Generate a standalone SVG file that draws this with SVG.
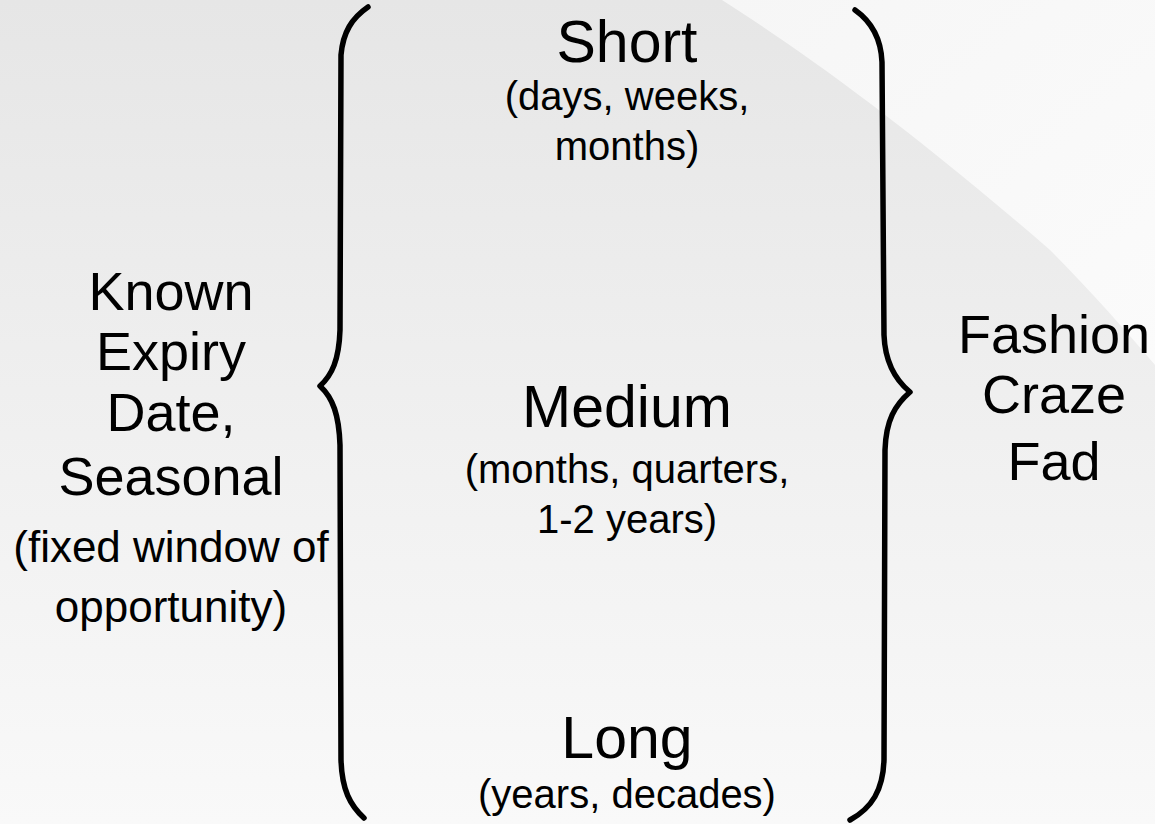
<svg xmlns="http://www.w3.org/2000/svg" width="1155" height="824" viewBox="0 0 1155 824">
  <defs>
    <linearGradient id="bg" x1="0" y1="0" x2="0" y2="1">
      <stop offset="0" stop-color="#e6e6e6"/>
      <stop offset="1" stop-color="#f9f9f9"/>
    </linearGradient>
    <linearGradient id="sheen" x1="0" y1="0" x2="1" y2="1">
      <stop offset="0" stop-color="#f6f6f6"/>
      <stop offset="1" stop-color="#fbfbfb"/>
    </linearGradient>
    <!-- slightly ragged ink edge for the hand-drawn braces -->
    <filter id="ink" x="-10%" y="-2%" width="120%" height="104%">
      <feTurbulence type="fractalNoise" baseFrequency="0.9" numOctaves="1" seed="3" result="noise"/>
      <feDisplacementMap in="SourceGraphic" in2="noise" scale="1.6" xChannelSelector="R" yChannelSelector="G"/>
    </filter>
    <style>
      .big { font-family: "Liberation Sans", Arial, sans-serif; font-size: 59px; fill: #000; text-anchor: middle; }
      .side { font-family: "Liberation Sans", Arial, sans-serif; font-size: 54px; fill: #000; text-anchor: middle; }
      .small { font-family: "Liberation Sans", Arial, sans-serif; font-size: 40px; fill: #000; text-anchor: middle; }
      .note { font-family: "Liberation Sans", Arial, sans-serif; font-size: 44px; fill: #000; text-anchor: middle; }
      .brace { fill: none; stroke: #000; stroke-width: 5.5; stroke-linecap: round; stroke-linejoin: round; }
    </style>
  </defs>

  <!-- backdrop -->
  <rect x="0" y="0" width="1155" height="824" fill="url(#bg)"/>
  <path d="M 722,0 C 800,50 900,120 1050,250 C 1090,290 1125,330 1155,365 L 1155,0 Z" fill="url(#sheen)"/>

  <!-- braces -->
  <g id="connectors" filter="url(#ink)">
    <path class="brace" d="M 368,7 C 352,18 343,32 341,55 L 340,330 C 339,360 332,375 320,386 C 333,398 339,415 340,445 L 341,760 C 342,790 350,805 364,818"/>
    <path class="brace" d="M 855,10 C 872,22 881,38 882,62 L 884,335 C 885,360 893,378 910,392 C 895,405 886,420 885,450 L 884,760 C 883,790 872,808 850,820"/>
  </g>

  <g id="short">
    <text class="big" x="627" y="62">Short</text>
    <text class="small" x="627" y="110">(days, weeks,</text>
    <text class="small" x="627" y="160">months)</text>
  </g>

  <g id="medium">
    <text class="big" x="627" y="427">Medium</text>
    <text class="small" x="627" y="483">(months, quarters,</text>
    <text class="small" x="627" y="533">1-2 years)</text>
  </g>

  <g id="long">
    <text class="big" x="627" y="758">Long</text>
    <text class="small" x="627" y="808">(years, decades)</text>
  </g>

  <g id="known-expiry">
    <text class="side" x="171" y="310">Known</text>
    <text class="side" x="171" y="370">Expiry</text>
    <text class="side" x="171" y="431">Date,</text>
    <text class="side" x="171" y="495">Seasonal</text>
    <text class="note" x="171" y="562">(fixed window of</text>
    <text class="note" x="171" y="622">opportunity)</text>
  </g>

  <g id="fashion">
    <text class="side" x="1054" y="353">Fashion</text>
    <text class="side" x="1054" y="413">Craze</text>
    <text class="side" x="1054" y="480">Fad</text>
  </g>
</svg>
